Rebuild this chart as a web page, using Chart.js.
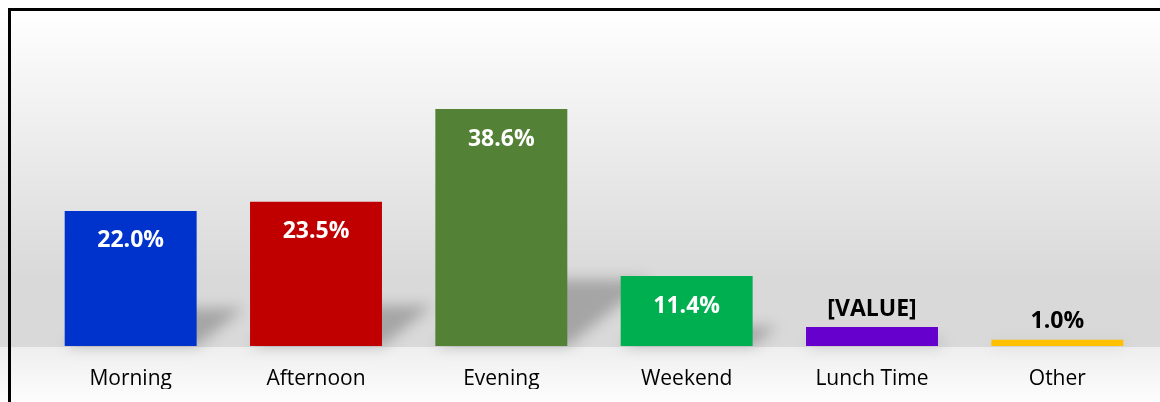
<!DOCTYPE html>
<html>
<head>
<meta charset="utf-8">
<script src="https://cdn.jsdelivr.net/npm/chart.js@4"></script>
<style>
  html, body { margin: 0; padding: 0; background: #ffffff; }
  #wrap { position: relative; width: 1160px; height: 402px; }
</style>
</head>
<body>
<div id="wrap"><canvas id="chart" width="1160" height="402"></canvas></div>
<script>
// categories and values
const categories = ['Morning', 'Afternoon', 'Evening', 'Weekend', 'Lunch Time', 'Other'];
const shares = [22.0, 23.5, 38.6, 11.4, 3.1, 1.0];
const valueLabels = ['22.0%', '23.5%', '38.6%', '11.4%', '[VALUE]', '1.0%'];
const barColors = ['#0033CC', '#C00000', '#538135', '#00B050', '#6600CC', '#FFC000'];

const FONT = '"Open Sans", "Liberation Sans", sans-serif';

// page background: soft grey gradient plus the black frame
const backdrop = {
  id: 'backdrop',
  beforeDraw(chart) {
    const { ctx, width, height, chartArea } = chart;
    const base = chartArea.bottom;
    ctx.save();
    let g = ctx.createLinearGradient(0, 10, 0, base);
    g.addColorStop(0, '#ffffff');
    g.addColorStop(0.8, '#d9d9d9');
    g.addColorStop(1, '#d9d9d9');
    ctx.fillStyle = g;
    ctx.fillRect(0, 0, width, base + 1);
    g = ctx.createLinearGradient(0, base + 1, 0, height);
    g.addColorStop(0, '#eeeeee');
    g.addColorStop(1, '#fdfdfd');
    ctx.fillStyle = g;
    ctx.fillRect(0, base + 1, width, height - base);
    ctx.restore();
  },
  afterDraw(chart) {
    const { ctx } = chart;
    ctx.save();
    ctx.strokeStyle = '#000000';
    ctx.lineWidth = 3;
    ctx.strokeRect(9.5, 9.5, 1300, 600);
    ctx.restore();
  }
};

// slanted soft shadow behind each bar
const barShadows = {
  id: 'barShadows',
  beforeDatasetsDraw(chart) {
    const { ctx } = chart;
    const meta = chart.getDatasetMeta(0);
    ctx.save();
    ctx.filter = 'blur(7px)';
    ctx.fillStyle = 'rgba(0,0,0,0.24)';
    meta.data.forEach(bar => {
      const h = bar.base - bar.y;
      const hs = h * 0.28;
      const shift = hs * 1.25;
      const left = bar.x - bar.width / 2;
      const right = bar.x + bar.width / 2;
      ctx.beginPath();
      ctx.moveTo(left, bar.base);
      ctx.lineTo(right, bar.base);
      ctx.lineTo(right + shift, bar.base - hs);
      ctx.lineTo(left + shift, bar.base - hs);
      ctx.closePath();
      ctx.fill();
    });
    ctx.restore();
  }
};

// value labels: inside for tall bars, above for short ones
const valueText = {
  id: 'valueText',
  afterDatasetsDraw(chart) {
    const { ctx } = chart;
    const meta = chart.getDatasetMeta(0);
    ctx.save();
    ctx.font = 'bold 23px ' + FONT;
    ctx.textAlign = 'center';
    ctx.textBaseline = 'middle';
    meta.data.forEach((bar, i) => {
      const h = bar.base - bar.y;
      if (h > 40) {
        ctx.fillStyle = '#ffffff';
        ctx.fillText(valueLabels[i], bar.x, bar.y + 30);
      } else {
        ctx.fillStyle = '#000000';
        ctx.fillText(valueLabels[i], bar.x, bar.y - 18);
      }
    });
    ctx.restore();
  }
};

new Chart(document.getElementById('chart'), {
  type: 'bar',
  data: {
    labels: categories,
    datasets: [{
      data: shares,
      backgroundColor: barColors,
      borderWidth: 0,
      categoryPercentage: 1,
      barPercentage: 0.712
    }]
  },
  options: {
    responsive: false,
    animation: false,
    layout: { padding: { left: 38, right: 10, top: 39, bottom: 13 } },
    plugins: {
      legend: { display: false },
      tooltip: { enabled: false }
    },
    scales: {
      x: {
        grid: { display: false, drawTicks: false },
        border: { display: false },
        ticks: { color: '#000000', font: { family: FONT, size: 21 }, padding: 20 },
        afterFit(scale) { scale.height = 43; }
      },
      y: {
        display: false,
        min: 0,
        max: 50
      }
    }
  },
  plugins: [backdrop, barShadows, valueText]
});
</script>
</body>
</html>
